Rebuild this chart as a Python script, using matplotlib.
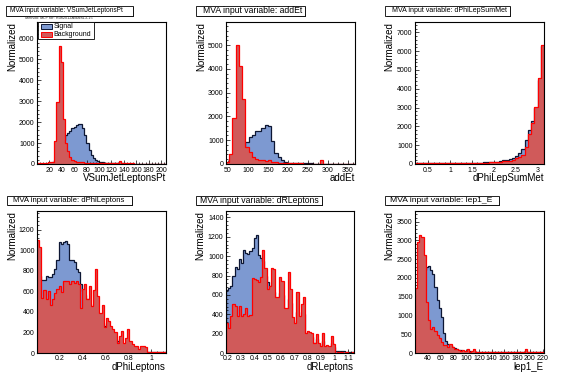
import numpy as np
import matplotlib
matplotlib.use('Agg')
import matplotlib.pyplot as plt
from matplotlib.patches import Rectangle
from matplotlib.ticker import FixedLocator, MultipleLocator, FuncFormatter

plt.rcParams['font.family'] = ['Liberation Sans', 'DejaVu Sans']

# ---------------- data ----------------
variables = ['VSumJetLeptonsPt', 'addEt', 'dPhiLepSumMet', 'dPhiLeptons', 'dRLeptons', 'lep1_E']
titles = ['MVA input variable: ' + v for v in variables]
legend_labels = ['Signal', 'Background']
method_note = 'Method: MLP for: Run2012A/data13-15'
y_title = 'Normalized'

x_ranges = [(0, 208), (45, 368), (0.2, 3.15), (0.0, 1.13), (0.19, 1.145), (20, 222)]
y_max = [6780, 5970, 7550, 1380, 1467, 3785]
y_step = [1000, 1000, 1000, 200, 200, 500]

xticks1 = [20, 40, 60, 80, 100, 120, 140, 160, 180, 200]
xticks2 = [50, 100, 150, 200, 250, 300, 350]
xticks3 = [0.5, 1, 1.5, 2, 2.5, 3]
xticks4 = [0.2, 0.4, 0.6, 0.8, 1]
xticks5 = [0.2, 0.3, 0.4, 0.5, 0.6, 0.7, 0.8, 0.9, 1, 1.1]
xticks6 = [40, 60, 80, 100, 120, 140, 160, 180, 200, 220]

sig1 = [0, 5, 10, 15, 20, 30, 50, 100, 200, 400, 650, 900, 1150,
        1380, 1460, 1570, 1700, 1780, 1860, 1890, 1890, 1700, 1380, 980, 670, 430, 270, 190, 140, 110,
        80, 70, 60, 50, 45, 40, 35, 30, 30, 25, 25, 20, 20, 20, 15, 15, 15, 15, 15, 12, 12, 12, 12,
        10, 10, 10, 10, 10, 10, 10]
bkg1 = [40, 40, 40, 45, 50, 110, 110, 110,
        1110, 2980, 5630, 4870, 2170, 980, 635, 350, 190, 140,
        110, 100, 90, 80, 70, 60, 55, 50, 45, 40, 40, 35, 35, 30, 30, 30, 30, 30, 30, 30,
        140, 30, 25, 25, 25, 25, 25, 20, 20, 20, 20, 20, 20, 20, 20, 20, 20, 20, 20, 20, 20, 20]

sig2 = [0, 10, 30, 100, 300, 600, 940, 1120, 1230, 1370,
        1400, 1510, 1650, 1600, 950, 450, 300, 170, 100, 60,
        45, 40, 35, 30, 30, 25, 25, 20, 20, 20,
        20, 15, 15, 15, 15, 15, 15, 15, 15, 15]
bkg2 = [80, 430, 1950, 4990, 4100, 2750, 700, 520, 290, 200,
        170, 150, 130, 180, 90, 70, 50, 40, 35, 30,
        30, 25, 25, 25, 20, 20, 20, 20, 20, 150,
        20, 20, 15, 15, 15, 15, 15, 15, 15, 15]

sig3 = [30, 30, 30, 35, 30, 35, 35, 35, 40, 40,
        40, 45, 45, 50, 50, 55, 60, 60, 65, 70,
        75, 80, 90, 100, 110, 130, 160, 190, 230, 280,
        340, 420, 560, 780, 1250, 1800, 2300, 3000, 4450, 6250]
bkg3 = [40, 40, 45, 40, 40, 45, 40, 45, 40, 45,
        45, 45, 50, 45, 50, 50, 55, 55, 60, 60,
        65, 70, 75, 80, 90, 100, 120, 150, 170, 160,
        230, 300, 380, 500, 900, 1600, 2160, 3045, 4550, 6320]

sig4 = [900, 750, 710, 710, 745, 735, 735, 770, 815, 900,
        1075, 1060, 1075, 1090, 1060, 900, 900, 880, 815, 790,
        670, 600, 560, 520, 480, 450, 420, 390, 350, 320,
        290, 260, 235, 210, 185, 165, 140, 120, 105, 90,
        80, 70, 60, 50, 40, 35, 28, 24, 20, 18,
        15, 14, 12, 10, 10, 8, 8, 6, 6, 5]
bkg4 = [1100, 1030, 530, 610, 520, 600, 470, 520, 580, 620,
        650, 590, 700, 700, 700, 670, 700, 680, 700, 670,
        440, 620, 670, 520, 650, 460, 610, 815, 550, 390,
        470, 250, 345, 310, 265, 230, 200, 100, 165, 215,
        100, 150, 230, 115, 85, 70, 70, 35, 70, 70,
        60, 10, 5, 5, 5, 5, 5, 5, 5, 5]

sig5 = [655, 675, 695, 800, 890, 865, 975, 930, 1060, 1030,
        1020, 1050, 1085, 1190, 1218, 1014, 980, 950, 800, 730,
        690, 660, 630, 560, 550, 620, 600, 450, 440, 560,
        520, 340, 300, 420, 350, 380, 400, 200, 200, 180,
        170, 100, 140, 95, 65, 120, 60, 60, 55, 100,
        60, 25, 22, 20, 20, 18, 15, 15, 12, 12]
bkg5 = [308, 263, 384, 505, 488, 384, 488, 384, 401, 470,
        384, 390, 771, 760, 754, 730, 782, 1059, 875, 661,
        695, 875, 868, 574, 574, 782, 747, 470, 470, 840,
        661, 367, 315, 626, 384, 505, 574, 211, 228, 220,
        211, 107, 194, 107, 73, 211, 73, 80, 73, 176,
        90, 3, 10, 8, 10, 5, 8, 5, 5, 8]

sig6 = [1000, 1500, 1900, 2100, 2200, 2300, 2310, 2220, 2100, 1750,
        1420, 1200, 950, 520, 330, 250, 200, 150, 120, 100,
        80, 70, 60, 50, 45, 40, 38, 35, 32, 30,
        30, 28, 28, 26, 26, 25, 25, 24, 24, 23,
        23, 22, 22, 21, 21, 20, 20, 20, 20, 20,
        20, 20, 20, 20, 20, 20, 20, 20, 20, 20]
bkg6 = [1730, 2970, 3150, 3080, 2610, 1370, 880, 637, 700, 583,
        493, 404, 296, 206, 224, 161, 251, 161, 99, 117,
        72, 54, 90, 45, 99, 27, 60, 99, 27, 30,
        20, 25, 15, 20, 30, 15, 20, 25, 15, 20,
        15, 20, 25, 15, 20, 15, 20, 15, 20, 15,
        20, 117, 20, 15, 15, 20, 15, 15, 15, 15]

signals = [sig1, sig2, sig3, sig4, sig5, sig6]
backgrounds = [bkg1, bkg2, bkg3, bkg4, bkg5, bkg6]
xticks_all = [xticks1, xticks2, xticks3, xticks4, xticks5, xticks6]

# ---------------- style / layout ----------------
W, H = 567, 379
SIG_FILL = '#7d99d1'
SIG_LINE = '#0d1633'
BKG_FILL = '#d05a5a'
BKG_LINE = '#ff0000'

# axes boxes in pixels: left, top, right, bottom
axes_px = [(37, 22, 166, 164), (226, 22, 355, 164), (415, 22, 544, 164),
           (37, 211, 166, 353), (226, 211, 354, 353), (415, 211, 544, 353)]
ylabel_px = [12, 201, 389, 12, 200, 389]
title_boxes = [(6, 5.7, 132.7, 15.7), (196, 5.7, 305, 15.7), (385.3, 5.7, 510, 15.7),
               (7, 195.5, 132, 205), (196, 195.5, 322, 205), (385.3, 195.5, 499, 205)]
title_text_x = [10, 202.7, 392, 13.3, 200, 390]
title_sizes = [4.7, 6.2, 5.0, 5.6, 6.2, 6.1]

fig = plt.figure(figsize=(W / 100, H / 100), dpi=100)
fig.patch.set_facecolor('white')


def fx(px):
    return px / W


def fy(py):
    return 1 - py / H


def fig_rect(x0, y0, x1, y1, **kw):
    r = Rectangle((fx(x0), fy(y1)), (x1 - x0) / W, (y1 - y0) / H,
                  transform=fig.transFigure, **kw)
    fig.add_artist(r)
    return r


fmt = FuncFormatter(lambda v, p: '%g' % v)

for i in range(6):
    l, t, r, b = axes_px[i]
    ax = fig.add_axes([fx(l), fy(b), (r - l) / W, (b - t) / H])
    lo, hi = x_ranges[i]
    sig = np.array(signals[i], dtype=float)
    bkg = np.array(backgrounds[i], dtype=float)
    edges = np.linspace(lo, hi, len(sig) + 1)
    ax.stairs(sig, edges, fill=True, facecolor=SIG_FILL, edgecolor='none', lw=0, zorder=1)
    ax.stairs(sig, edges, baseline=0, color=SIG_LINE, lw=0.9, zorder=1.5)
    edges_b = np.linspace(lo, hi, len(bkg) + 1)
    ax.stairs(bkg, edges_b, fill=True, facecolor=BKG_FILL, edgecolor='none', lw=0, zorder=2)
    ax.stairs(bkg, edges_b, baseline=0, color=BKG_LINE, lw=0.9, zorder=2.5)

    ax.set_xlim(lo, hi)
    ax.set_ylim(0, y_max[i])
    ax.xaxis.set_major_locator(FixedLocator(xticks_all[i]))
    xt = xticks_all[i]
    ax.xaxis.set_minor_locator(MultipleLocator((xt[1] - xt[0]) / 4))
    ax.yaxis.set_major_locator(MultipleLocator(y_step[i]))
    ax.yaxis.set_minor_locator(MultipleLocator(y_step[i] / 5))
    ax.xaxis.set_major_formatter(fmt)
    ax.yaxis.set_major_formatter(fmt)
    ax.tick_params(which='both', direction='in', top=False, right=False,
                   labelsize=5, pad=1.8, width=0.5, colors='black')
    ax.tick_params(which='major', length=3)
    ax.tick_params(which='minor', length=1.5)
    for s in ax.spines.values():
        s.set_linewidth(0.8)
        s.set_color('black')
        s.set_zorder(5)

    ax.annotate(variables[i], xy=(1, 0), xycoords='axes fraction',
                xytext=(0, -14 * 0.72), textcoords='offset points',
                ha='right', va='center', fontsize=7)
    ax.annotate(y_title, xy=(0, 1), xycoords='axes fraction',
                xytext=(-(l - ylabel_px[i]) * 0.72, 0), textcoords='offset points',
                rotation=90, ha='center', va='top', fontsize=7)

    # title box with shadow
    x0, y0, x1, y1 = title_boxes[i]
    fig_rect(x0 + 1.3, y0 + 1.3, x1 + 1.3, y1 + 1.3, facecolor='#222222', edgecolor='none', zorder=10)
    fig_rect(x0, y0, x1, y1, facecolor='white', edgecolor='black', lw=0.6, zorder=11)
    fig.text(fx(title_text_x[i]), fy((y0 + y1) / 2), titles[i], fontsize=title_sizes[i],
             ha='left', va='center', zorder=12)

# method note under first title
fig.text(fx(25), fy(17.6), method_note, fontsize=2.8, ha='left', va='center', color='#333333')

# legend in first panel
fig_rect(38.3, 21.8, 94, 39.3, facecolor='white', edgecolor='black', lw=0.6, zorder=20)
fig_rect(40.7, 24.2, 51.7, 29.3, facecolor=SIG_FILL, edgecolor=SIG_LINE, lw=0.7, zorder=21)
fig_rect(40.7, 31.8, 51.7, 36.9, facecolor=BKG_FILL, edgecolor=BKG_LINE, lw=0.7, zorder=21)
fig.text(fx(53.3), fy(26.8), legend_labels[0], fontsize=5, ha='left', va='center', zorder=22)
fig.text(fx(53.3), fy(34.4), legend_labels[1], fontsize=5, ha='left', va='center', zorder=22)

fig.savefig('out.png', dpi=100, facecolor='white')
